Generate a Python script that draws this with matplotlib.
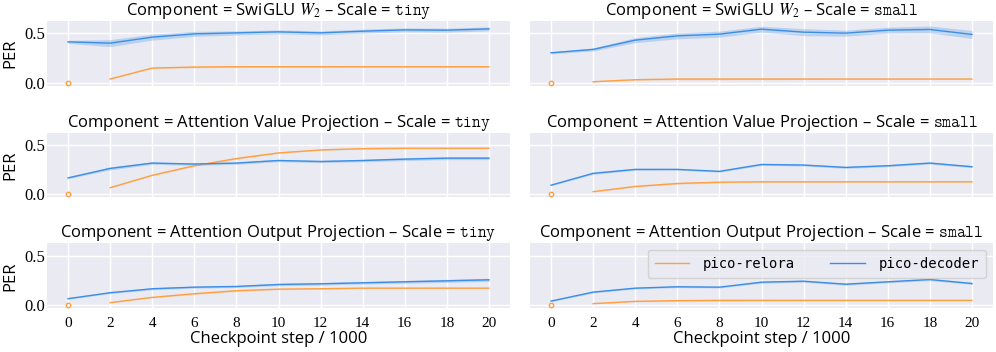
import matplotlib
matplotlib.use("Agg")
import matplotlib.pyplot as plt
import numpy as np

# ---------------- data ----------------
steps = [0, 2, 4, 6, 8, 10, 12, 14, 16, 18, 20]
relora_steps = [2, 4, 6, 8, 10, 12, 14, 16, 18, 20]
relora_step0 = 0.0

components = ["SwiGLU $W_2$", "Attention Value Projection", "Attention Output Projection"]
scales = ["tiny", "small"]

# pico-decoder mean PER
dec_swiglu_tiny = [0.413, 0.40, 0.46, 0.493, 0.503, 0.513, 0.503, 0.52, 0.533, 0.53, 0.543]
dec_swiglu_small = [0.303, 0.337, 0.43, 0.473, 0.49, 0.54, 0.51, 0.50, 0.53, 0.537, 0.487]
dec_value_tiny = [0.167, 0.263, 0.317, 0.307, 0.317, 0.343, 0.333, 0.343, 0.357, 0.367, 0.367]
dec_value_small = [0.093, 0.213, 0.253, 0.253, 0.233, 0.303, 0.297, 0.273, 0.29, 0.317, 0.28]
dec_output_tiny = [0.067, 0.127, 0.167, 0.183, 0.19, 0.21, 0.217, 0.227, 0.237, 0.247, 0.257]
dec_output_small = [0.043, 0.133, 0.173, 0.187, 0.183, 0.233, 0.243, 0.213, 0.237, 0.26, 0.22]

# pico-decoder CI half widths
dec_ci_swiglu_tiny = [0.015, 0.035, 0.03, 0.025, 0.02, 0.02, 0.02, 0.02, 0.02, 0.02, 0.02]
dec_ci_swiglu_small = [0.01, 0.015, 0.025, 0.03, 0.03, 0.03, 0.035, 0.03, 0.03, 0.035, 0.04]
dec_ci_value_tiny = [0.008, 0.015, 0.012, 0.012, 0.012, 0.012, 0.012, 0.012, 0.015, 0.015, 0.015]
dec_ci_value_small = [0.006, 0.01, 0.01, 0.008, 0.008, 0.01, 0.01, 0.01, 0.01, 0.01, 0.01]
dec_ci_output_tiny = [0.006, 0.008, 0.01, 0.01, 0.01, 0.012, 0.012, 0.012, 0.014, 0.015, 0.016]
dec_ci_output_small = [0.005, 0.008, 0.008, 0.008, 0.008, 0.01, 0.01, 0.01, 0.01, 0.01, 0.01]

# pico-relora mean PER (steps 2..20)
rel_swiglu_tiny = [0.04, 0.15, 0.16, 0.163, 0.163, 0.163, 0.163, 0.163, 0.163, 0.163]
rel_swiglu_small = [0.013, 0.033, 0.04, 0.04, 0.04, 0.04, 0.04, 0.04, 0.04, 0.04]
rel_value_tiny = [0.067, 0.193, 0.29, 0.363, 0.42, 0.45, 0.463, 0.467, 0.467, 0.467]
rel_value_small = [0.027, 0.08, 0.11, 0.123, 0.127, 0.127, 0.127, 0.127, 0.127, 0.127]
rel_output_tiny = [0.027, 0.08, 0.117, 0.147, 0.163, 0.167, 0.173, 0.173, 0.173, 0.173]
rel_output_small = [0.017, 0.04, 0.047, 0.05, 0.05, 0.05, 0.05, 0.05, 0.05, 0.05]
rel_ci = [0.003, 0.005, 0.008, 0.008, 0.006, 0.005, 0.004, 0.004, 0.004, 0.004]

decoder = [[dec_swiglu_tiny, dec_swiglu_small],
           [dec_value_tiny, dec_value_small],
           [dec_output_tiny, dec_output_small]]
decoder_ci = [[dec_ci_swiglu_tiny, dec_ci_swiglu_small],
              [dec_ci_value_tiny, dec_ci_value_small],
              [dec_ci_output_tiny, dec_ci_output_small]]
relora = [[rel_swiglu_tiny, rel_swiglu_small],
          [rel_value_tiny, rel_value_small],
          [rel_output_tiny, rel_output_small]]

xticks = [0, 2, 4, 6, 8, 10, 12, 14, 16, 18, 20]
yticks = [0.0, 0.5]

# ---------------- style ----------------
ORANGE = "#ff9f40"
BLUE = "#3a8ee6"
BG = "#eaeaf2"
TITLE_FONT = ["Open Sans", "DejaVu Sans"]
TICK_FONT = ["Liberation Serif", "DejaVu Serif"]
MONO = ["DejaVu Sans Mono"]

plt.rcParams["mathtext.fontset"] = "stix"
plt.rcParams["axes.unicode_minus"] = False

fig = plt.figure(figsize=(9.96, 3.52), dpi=100)
W, H = 996, 352
col_px = [(47, 510), (530, 993)]
row_px = [(20.7, 86), (132.7, 197.3), (243.3, 308.3)]

for r in range(3):
    for c in range(2):
        x0, x1 = col_px[c]
        y0, y1 = row_px[r]
        ax = fig.add_axes([x0 / W, 1 - y1 / H, (x1 - x0) / W, (y1 - y0) / H])
        ax.set_facecolor(BG)
        for s in ax.spines.values():
            s.set_visible(False)
        ax.grid(True, color="white", linewidth=1.0)
        ax.set_axisbelow(True)
        ax.tick_params(axis="y", length=0, pad=1.5)
        ax.tick_params(axis="x", length=0, pad=6)

        d = np.array(decoder[r][c])
        e = np.array(decoder_ci[r][c])
        rl = np.array(relora[r][c])
        re = np.array(rel_ci)

        ax.fill_between(relora_steps, rl - re, rl + re, color=ORANGE, alpha=0.28, linewidth=0)
        ax.plot(relora_steps, rl, color=ORANGE, linewidth=1.0, label="pico-relora")
        ax.plot([0], [relora_step0], marker="o", markersize=3.2, markerfacecolor="none",
                markeredgecolor=ORANGE, markeredgewidth=1.0, linestyle="none")
        ax.fill_between(steps, d - e, d + e, color=BLUE, alpha=0.28, linewidth=0)
        ax.plot(steps, d, color=BLUE, linewidth=1.0, label="pico-decoder")

        ax.set_xlim(-1, 21)
        ax.set_ylim(-0.03, 0.625)
        ax.set_xticks(xticks)
        ax.set_yticks(yticks)
        ax.set_yticklabels([f"{v:.1f}" for v in yticks], family=TICK_FONT, fontsize=12)
        if r == 2:
            ax.set_xticklabels([str(v) for v in xticks], family=TICK_FONT, fontsize=11)
            ax.set_xlabel("Checkpoint step / 1000", family=TITLE_FONT, fontsize=12, labelpad=1)
        else:
            ax.set_xticklabels([])
        if c == 0:
            ax.set_ylabel("PER", family=TITLE_FONT, fontsize=12, labelpad=4)
        else:
            ax.set_yticklabels([])

        title_main = f"Component = {components[r]} – Scale = "
        ax.set_title(title_main + r"$\mathtt{" + scales[c] + "}$", family=TITLE_FONT,
                     fontsize=12, pad=3)

        if r == 2 and c == 1:
            leg = ax.legend(loc="upper right", ncol=2, frameon=True, fancybox=True,
                            prop={"family": MONO, "size": 10}, handlelength=2.5,
                            handletextpad=1.0, columnspacing=2.5, borderpad=0.5)
            leg.get_frame().set_facecolor(BG)
            leg.get_frame().set_edgecolor("#cccccc")
            leg.get_frame().set_alpha(0.8)

fig.savefig("out.png", dpi=100)
